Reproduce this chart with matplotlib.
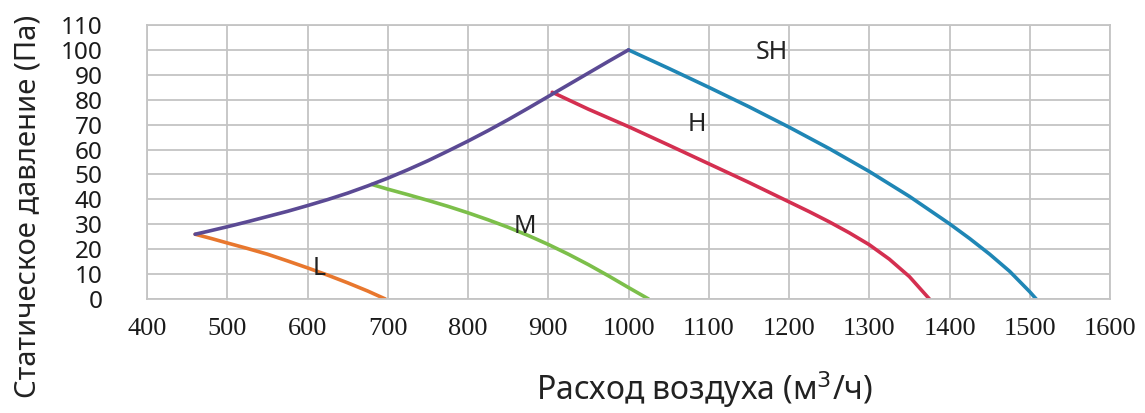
import matplotlib
matplotlib.use("Agg")
import matplotlib.pyplot as plt

# рабочая точка системы (фиолетовая кривая)
sys_q = [460, 475, 500, 525, 550, 575, 600, 625, 650, 675, 700, 725, 750,
         775, 800, 825, 850, 875, 900, 925, 950, 975, 1000]
sys_p = [26, 27.1, 29, 31, 33.1, 35.2, 37.5, 39.9, 42.5, 45.4, 48.5, 51.9,
         55.5, 59.4, 63.4, 67.6, 72, 76.6, 81.3, 86, 90.7, 95.4, 100]

# характеристики вентилятора по скоростям
L_q = [460, 480, 500, 525, 550, 575, 600, 625, 650, 675, 697]
L_p = [26, 24.3, 22.5, 20.3, 18, 15.3, 12.5, 9.6, 6.5, 3.2, 0]

M_q = [680, 700, 725, 750, 775, 800, 825, 850, 875, 900, 925, 950, 975, 1000, 1025]
M_p = [46, 44.1, 41.9, 39.6, 37.2, 34.6, 31.8, 28.8, 25.5, 21.9, 18, 13.8, 9.3, 4.6, 0]

H_q = [905, 950, 1000, 1050, 1100, 1150, 1200, 1225, 1250, 1275, 1300,
       1325, 1350, 1375]
H_p = [83, 76.2, 69.2, 61.8, 54.3, 46.8, 39, 35.1, 31, 26.6, 21.8,
       16, 9, 0]

SH_q = [1000, 1050, 1100, 1150, 1200, 1250, 1300, 1350, 1400, 1425, 1450,
        1475, 1500, 1508]
SH_p = [100, 92.6, 85, 77.2, 69, 60.4, 51.2, 41.2, 30.2, 24.3, 18,
        11.1, 2.9, 0]

xticks = list(range(400, 1700, 100))
yticks = list(range(0, 120, 10))

fig = plt.figure(figsize=(11.45, 4.13), dpi=100)
ax = fig.add_axes([147/1145, 1 - 299/413, (1110-147)/1145, (299-25)/413])

kw = dict(lw=2.6, solid_capstyle="round", solid_joinstyle="round")
ax.plot(L_q, L_p, color="#e8772e", **kw)
ax.plot(M_q, M_p, color="#7cbf4a", **kw)
ax.plot(H_q, H_p, color="#d42f50", **kw)
ax.plot(SH_q, SH_p, color="#1f86b5", **kw)
ax.plot(sys_q, sys_p, color="#5b4a94", **kw)

ax.set_xlim(400, 1600)
ax.set_ylim(0, 110)
ax.set_xticks(xticks)
ax.set_yticks(yticks)
ax.grid(True, color="#c4c4c4", lw=1.3)
ax.set_axisbelow(True)
for s in ax.spines.values():
    s.set_color("#c4c4c4")
    s.set_linewidth(1.3)
ax.tick_params(length=0)
ax.tick_params(axis="x", pad=14)
ax.tick_params(axis="y", pad=32)
for t in ax.get_xticklabels():
    t.set_family(["Liberation Serif", "DejaVu Serif"])
    t.set_fontsize(19)
    t.set_color("#1a1a1a")
for t in ax.get_yticklabels():
    t.set_family(["Noto Sans", "DejaVu Sans"])
    t.set_fontsize(17.5)
    t.set_color("#1a1a1a")

# подписи кривых
lab = dict(fontsize=18, color="#222222", family=["Noto Sans", "DejaVu Sans"],
           ha="center", va="center")
ax.text(1179, 99, "SH", **lab)
ax.text(1085, 70, "H", **lab)
ax.text(871, 29.3, "M", **lab)
ax.text(615, 12.4, "L", **lab)

fig.text(28/1145, 0.5, "Статическое давление (Па)", rotation=90,
         ha="center", va="center", fontsize=21, color="#222222",
         family=["Noto Sans", "DejaVu Sans"])
fig.text(705/1145, 1 - 390/413, "Расход воздуха (м$^3$/ч)",
         ha="center", va="center", fontsize=23, color="#222222",
         family=["Noto Sans", "DejaVu Sans"])

fig.savefig("out.png", dpi=100, facecolor="white")
